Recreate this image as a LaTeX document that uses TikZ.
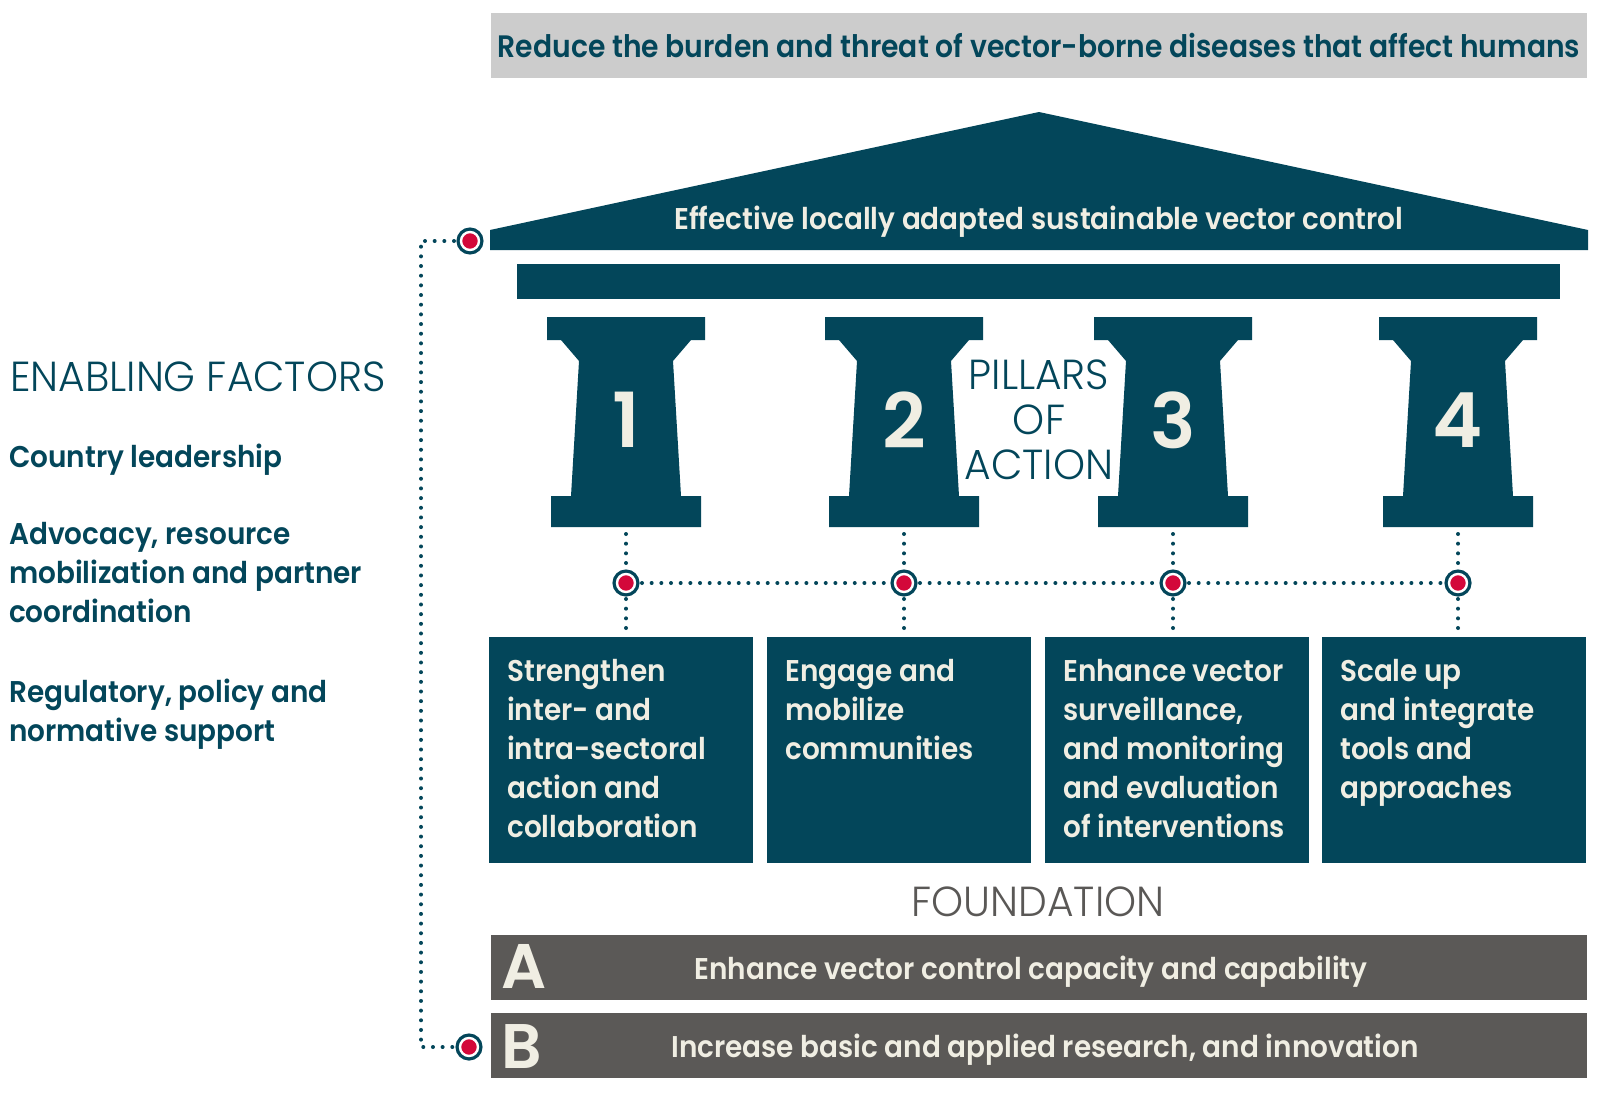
\documentclass[tikz,border=0pt]{standalone}
\usepackage{fontspec}
\setmainfont{Poppins}
\newfontfamily\fmed{Poppins SemiBold}[FakeStretch=0.93]
\newfontfamily\fcond{Poppins SemiBold}[FakeStretch=0.91]
\newfontfamily\flight{Poppins Light}[FakeStretch=0.97]
\newfontfamily\fsemi{Poppins SemiBold}
\definecolor{mteal}{HTML}{03465A}
\definecolor{mred}{HTML}{D3083A}
\definecolor{mcream}{HTML}{F0EEE3}
\definecolor{mbar}{HTML}{5B5957}
\definecolor{mfound}{HTML}{5A5856}
\definecolor{mgrayl}{HTML}{CCCCCC}
\begin{document}
\begin{tikzpicture}[x=1pt, y=-1pt,
  body/.style={font=\fmed\fontsize{30}{39}\selectfont, inner sep=0pt},
  head/.style={font=\flight\fontsize{42}{45}\selectfont, text=mteal, inner sep=0pt},
  digit/.style={font=\fsemi\fontsize{76}{76}\selectfont, text=mcream, inner sep=0pt},
  letter/.style={font=\fsemi\fontsize{63}{63}\selectfont, text=mcream, inner sep=0pt, anchor=base west},
  dotline/.style={draw=mteal, line width=4pt, line cap=round, dash pattern=on 0pt off 9.67pt},
  marker/.style={circle, inner sep=0pt, minimum size=18pt, fill=mred, draw=white, line width=2.4pt, outer sep=7pt, preaction={draw=mteal, line width=9pt}},
  boxs/.style={rectangle, fill=mteal, inner sep=0pt, anchor=north west, minimum width=264pt, minimum height=226pt},
  bar/.style={rectangle, fill=mbar, inner sep=0pt, anchor=north west, minimum width=1096pt, minimum height=65pt},
  boxtext/.style={body, text=mcream, anchor=north west, align=left}
]
\useasboundingbox (0,0) rectangle (1600,1100);
\fill[white] (0,0) rectangle (1600,1100);

% goal
\node[rectangle, fill=mgrayl, inner sep=0pt, anchor=north west, minimum width=1096pt, minimum height=65pt] (goal) at (491,13) {};
\node[font=\fcond\fontsize{31}{36}\selectfont, text=mteal, inner sep=0pt, anchor=base] (goaltxt) at (1039,57) {Reduce the burden and threat of vector-borne diseases that affect humans};

% roof and beam
\fill[mteal] (490,250) -- (490,230) -- (1039,112) -- (1588,230) -- (1588,250) -- cycle;
\node[body, text=mcream, anchor=base] (roof) at (1039,229) {Effective locally adapted sustainable vector control};
\fill[mteal] (517,264) rectangle (1560,299);

% pillars
\foreach \c/\n in {626/1,904/2,1173/3,1458/4}{
  \fill[mteal] (\c-79,317) -- (\c+79,317) -- (\c+79,340) -- (\c+65,340) -- (\c+47,361)
    -- (\c+55,496) -- (\c+75,496) -- (\c+75,527) -- (\c-75,527) -- (\c-75,496)
    -- (\c-55,496) -- (\c-47,361) -- (\c-65,340) -- (\c-79,340) -- cycle;
  \node[digit] (p\n) at (\c,420) {\n};
  \coordinate (pb\n) at (\c,534);
  \node[marker] (m\n) at (\c,583) {};
  \draw[dotline] (pb\n) -- (m\n);
}
\node[head, align=center] (poa) at (1039,420) {PILLARS\\OF\\ACTION};

% boxes
\node[boxs] (b1) at (489,637) {};
\node[boxs] (b2) at (767,637) {};
\node[boxs] (b3) at (1045,637) {};
\node[boxs] (b4) at (1322,637) {};
\foreach \n in {1,2,3,4}{ \draw[dotline] (m\n) -- (m\n |- b\n.north); }
\draw[dotline] (m1) -- (m2);
\draw[dotline] (m2) -- (m3);
\draw[dotline] (m3) -- (m4);

\node[boxtext] (t1) at (507,655) {\rule{0pt}{26pt}Strengthen\\inter- and\\intra-sectoral\\action and\\collaboration};
\node[boxtext] (t2) at (785,655) {\rule{0pt}{26pt}Engage and\\mobilize\\communities};
\node[boxtext] (t3) at (1063,655) {\rule{0pt}{26pt}Enhance vector\\surveillance,\\and monitoring\\and evaluation\\of interventions};
\node[boxtext] (t4) at (1340,655) {\rule{0pt}{26pt}Scale up\\and integrate\\tools and\\approaches};

% foundation
\node[head, text=mfound, anchor=base] (fnd) at (1038,916) {FOUNDATION};
\node[bar] (ba) at (491,935) {};
\node[bar] (bb) at (491,1013) {};
\node[letter] (la) at (501,988) {A};
\node[letter] (lb) at (501,1068) {B};
\node[body, text=mcream, anchor=base] (ta) at (1031,979) {Enhance vector control capacity and capability};
\node[body, text=mcream, anchor=base] (tb) at (1045,1057) {Increase basic and applied research, and innovation};

% enabling factors
\node[head, anchor=base west] (enf) at (10,391) {ENABLING FACTORS};
\node[body, text=mteal, anchor=base west] (e1) at (9,467) {Country leadership};
\node[body, text=mteal, anchor=north west, align=left] (e2) at (9,518) {\rule{0pt}{26pt}Advocacy, resource\\mobilization and partner\\coordination};
\node[body, text=mteal, anchor=north west, align=left] (e3) at (9,676) {\rule{0pt}{26pt}Regulatory, policy and\\normative support};

% left connector
\node[marker] (mt) at (470,241) {};
\node[marker] (mb) at (469,1047) {};
\coordinate (lc) at (421,241);
\draw[dotline] (mt) -- (lc) |- (mb);
\end{tikzpicture}
\end{document}
